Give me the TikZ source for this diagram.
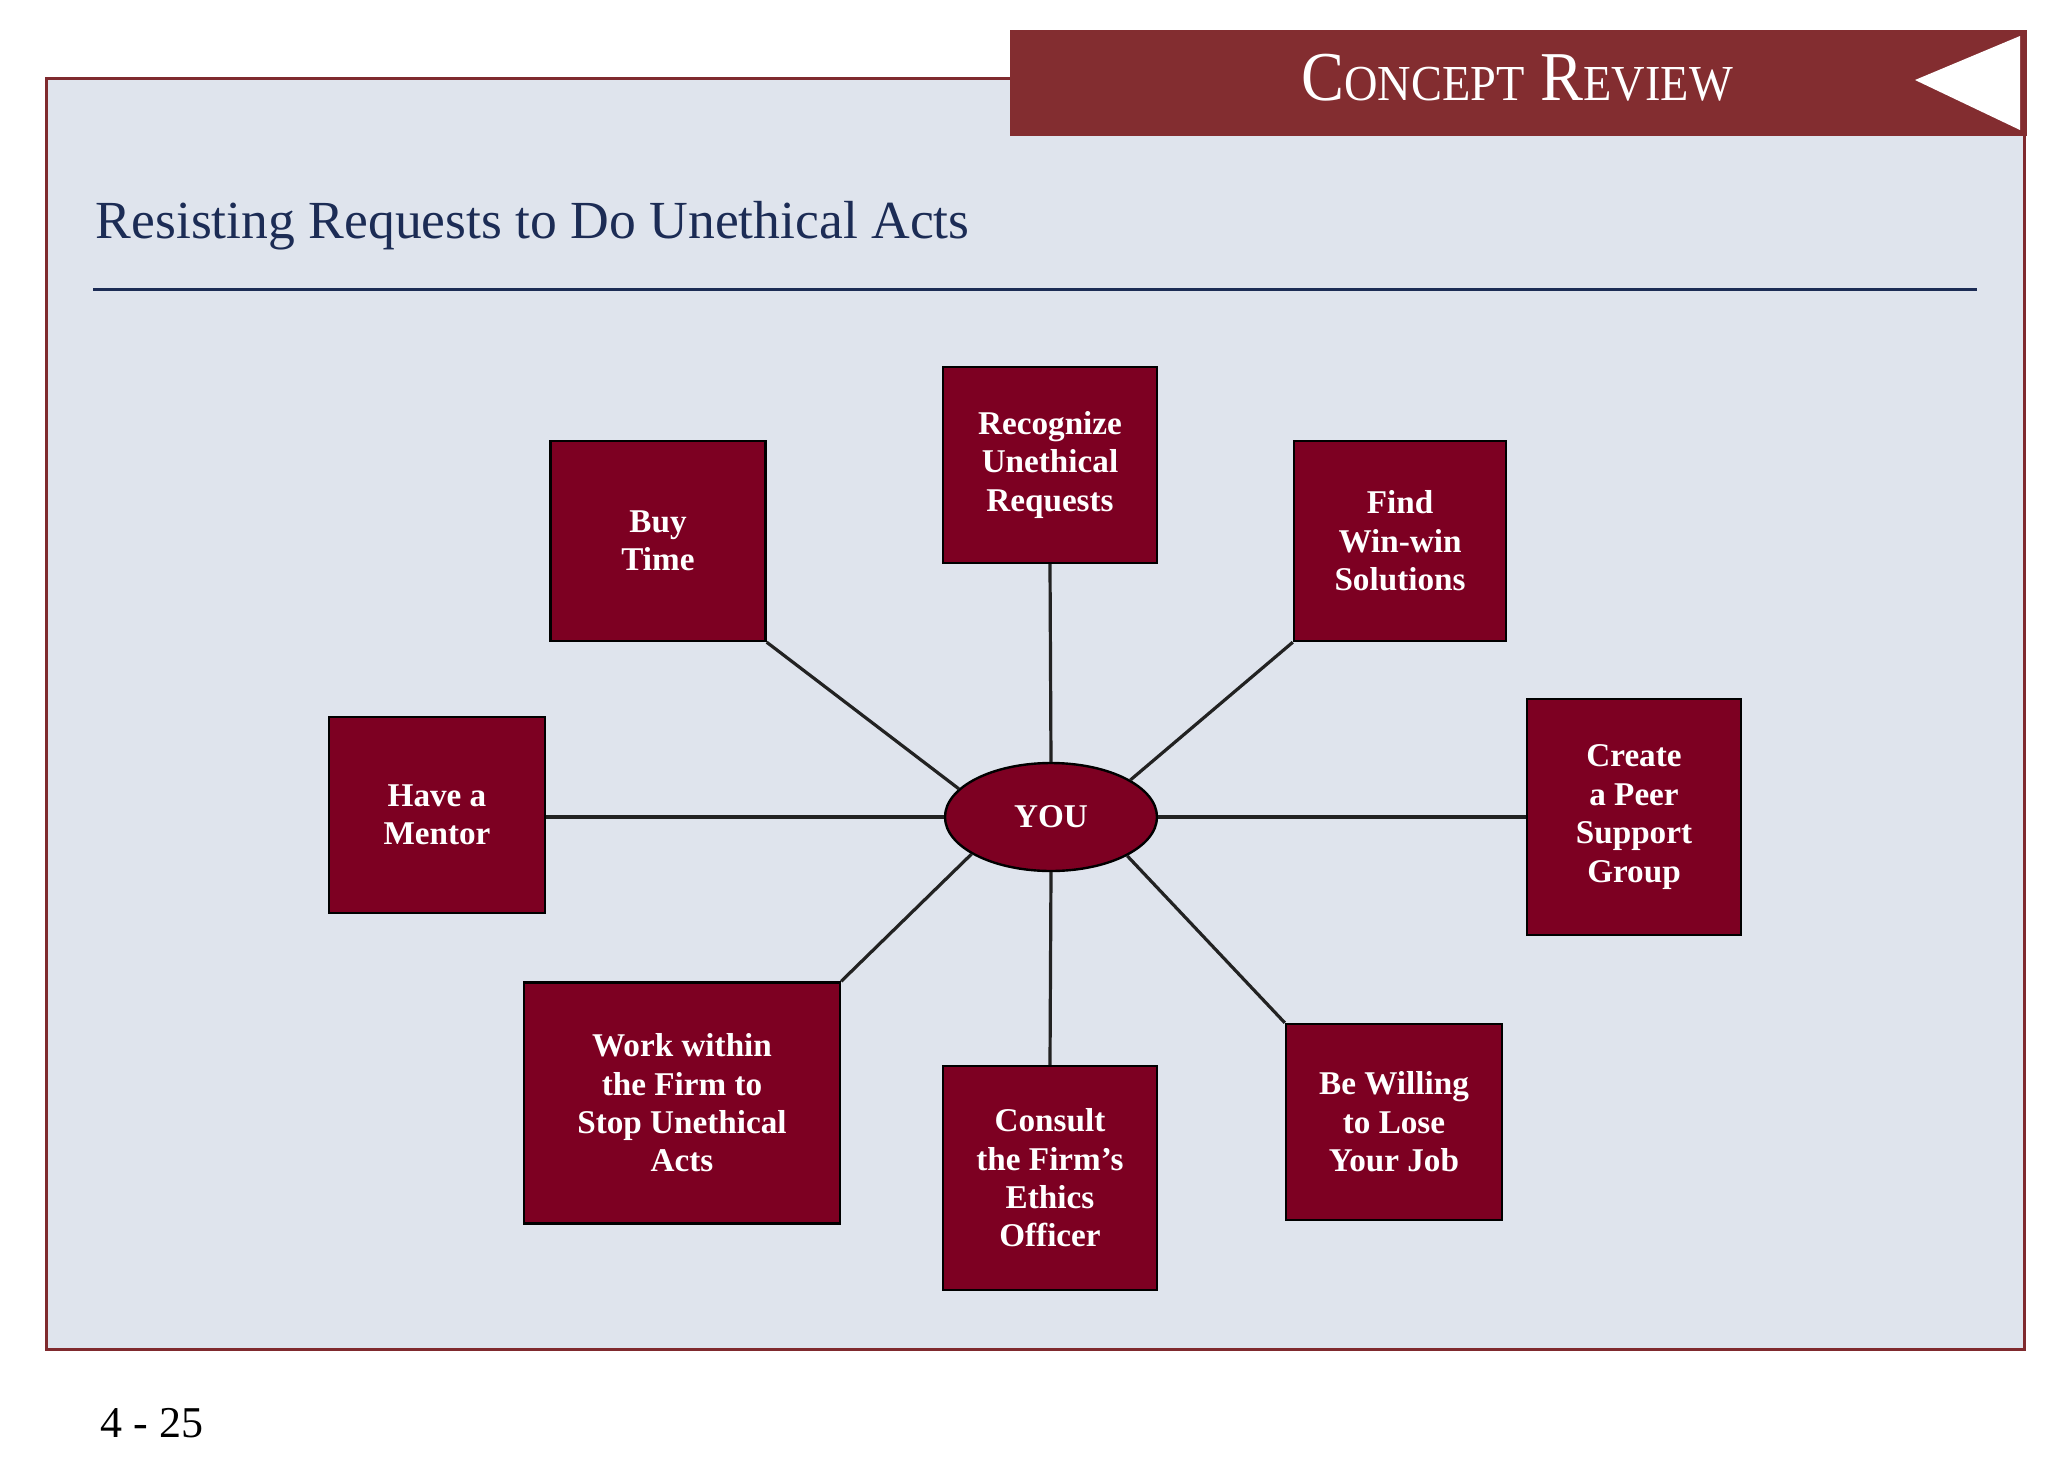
\documentclass[tikz,border=0pt]{standalone}
\usepackage{fontspec}
\setmainfont{Liberation Serif}
\usetikzlibrary{shapes.geometric}
\definecolor{framered}{HTML}{7F2A2E}
\definecolor{bannerred}{HTML}{832D30}
\definecolor{panel}{HTML}{DFE4ED}
\definecolor{boxred}{HTML}{7D0022}
\definecolor{navy}{HTML}{1C2C55}
\definecolor{linegray}{HTML}{222222}
\tikzset{
  box/.style={draw=black, line width=0.6pt, fill=boxred, text=white, align=center,
    inner sep=0pt, font=\fontsize{8.3pt}{9.6pt}\selectfont\bfseries},
  you/.style={ellipse, draw=black, line width=0.6pt, fill=boxred, text=white,
    inner sep=0pt, minimum width=53pt, minimum height=27pt, font=\fontsize{8.3pt}{9.6pt}\selectfont\bfseries},
  link/.style={draw=linegray, line width=0.8pt}
}
\begin{document}
\begin{tikzpicture}[x=0.25pt,y=-0.25pt]
\useasboundingbox (0,0) rectangle (2048,1479);
\fill[white] (0,0) rectangle (2048,1479);
% frame
\draw[framered, line width=0.75pt, fill=panel] (46,78) rectangle (2024,1349);
% banner
\fill[bannerred] (1010,30) rectangle (2027,136);
\fill[white] (1915,80) -- (2020,36) -- (2020,130) -- cycle;
\node[anchor=base, text=white, inner sep=0pt] (banner) at (1517,100)
  {\scalebox{0.92}[1]{\fontsize{17.5pt}{20pt}\selectfont C\fontsize{12.6pt}{14pt}\selectfont ONCEPT\fontsize{17.5pt}{20pt}\selectfont{} R\fontsize{12.6pt}{14pt}\selectfont EVIEW}};
% title
\node[anchor=base west, text=navy, inner sep=0pt, font=\fontsize{13.4pt}{16pt}\selectfont] (title) at (95,238)
  {Resisting Requests to Do Unethical Acts};
\coordinate (rl) at (93,289);
\coordinate (rr) at (1977,289);
\draw[navy, line width=0.75pt] (rl) -- (rr);
% page number
\node[anchor=base west, inner sep=0pt, font=\fontsize{11pt}{13pt}\selectfont] (page) at (100,1437) {4 - 25};
% nodes
\node[you] (you) at (1051,817) {YOU};
\node[box, minimum width=53.5pt, minimum height=49pt] (b1) at (1050,465) {Recognize\\Unethical\\Requests};
\node[box, minimum width=53.75pt, minimum height=50pt] (b2) at (658,541) {Buy\\Time};
\node[box, minimum width=53pt, minimum height=50pt] (b3) at (1400,541) {Find\\Win-win\\Solutions};
\node[box, minimum width=54pt, minimum height=49pt] (b4) at (437,815) {Have a\\Mentor};
\node[box, minimum width=53.5pt, minimum height=59pt] (b5) at (1634,817) {Create\\a Peer\\Support\\Group};
\node[box, minimum width=79pt, minimum height=60.25pt] (b6) at (682,1103) {Work within\\the Firm to\\Stop Unethical\\Acts};
\node[box, minimum width=53.5pt, minimum height=56pt] (b7) at (1050,1178) {Consult\\the Firm’s\\Ethics\\Officer};
\node[box, minimum width=54pt, minimum height=49pt] (b8) at (1394,1122) {Be Willing\\to Lose\\Your Job};
% connectors
\path[link] (b1.south) -- (you.north);
\path[link] (b7.north) -- (you.south);
\path[link] (b2.south east) -- (you.163);
\path[link] (b3.south west) -- (you.25);
\path[link] (b6.north east) -- (you.205);
\path[link] (b8.north west) -- (you.333);
\path[link] (you.west) -- (you.west -| b4.east);
\path[link] (you.east) -- (you.east -| b5.west);
\end{tikzpicture}
\end{document}
